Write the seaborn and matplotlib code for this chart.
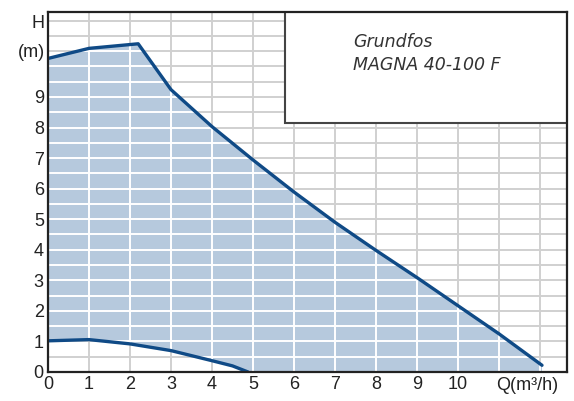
import matplotlib
matplotlib.use("Agg")
import matplotlib.pyplot as plt
from matplotlib.patches import Polygon, Rectangle
import seaborn as sns
import numpy as np

# pump curve, max speed (Q in m3/h, H in m)
q_max = [0, 1, 2.2, 3, 4, 5, 6, 7, 8, 9, 10, 11, 12.05]
h_max = [10.26, 10.59, 10.74, 9.24, 8.03, 6.94, 5.89, 4.90, 3.98, 3.09, 2.17, 1.25, 0.22]

# pump curve, min speed
q_min = [0, 1, 2, 3, 4, 4.5, 4.88]
h_min = [1.02, 1.06, 0.92, 0.70, 0.37, 0.20, 0.0]

x_ticks = list(range(0, 11))
y_ticks = list(range(0, 10))
title_lines = ["Grundfos", "MAGNA 40-100 F"]

sns.set_style("white")
plt.rcParams["font.family"] = ["Liberation Sans", "DejaVu Sans"]

XMAX, YMAX = 12.66, 11.78

fig = plt.figure(figsize=(5.74, 4.01), dpi=100)
ax = fig.add_axes([48 / 574, 1 - 372 / 401, (567 - 48) / 574, (372 - 12) / 401])
ax.set_xlim(0, XMAX)
ax.set_ylim(0, YMAX)

grid_x = np.arange(0, 13, 1)
grid_y = np.arange(0, 12, 0.5)
ax.vlines(grid_x, 0, YMAX, color="#d0d0d0", lw=1.4, zorder=0)
ax.hlines(grid_y, 0, XMAX, color="#d0d0d0", lw=1.4, zorder=0)

# operating area between the two curves
verts = list(zip(q_max, h_max)) + [(q_max[-1], 0)] + list(zip(q_min[::-1], h_min[::-1]))
poly = Polygon(verts, closed=True, facecolor="#b6c9dd", edgecolor="none", zorder=1)
ax.add_patch(poly)
vl = ax.vlines(grid_x, 0, YMAX, color="white", lw=1.4, zorder=2)
hl = ax.hlines(grid_y, 0, XMAX, color="white", lw=1.4, zorder=2)
vl.set_clip_path(poly)
hl.set_clip_path(poly)

sns.lineplot(x=q_max, y=h_max, ax=ax, color="#0f4a86", lw=2.4, sort=False, zorder=3)
sns.lineplot(x=q_min, y=h_min, ax=ax, color="#0f4a86", lw=2.4, sort=False, zorder=3)

# legend box
ax.add_patch(Rectangle((5.78, 8.15), 8, 5, facecolor="white", edgecolor="#444444",
                       lw=1.5, zorder=4))
ax.text(7.44, 10.8, title_lines[0], fontsize=12.5, style="italic", color="#333333",
        family=["DejaVu Sans"], ha="left", va="center", zorder=5)
ax.text(7.44, 10.05, title_lines[1], fontsize=12.5, style="italic", color="#333333",
        family=["DejaVu Sans"], ha="left", va="center", zorder=5)

ax.set_xticks(x_ticks)
ax.set_yticks(y_ticks)
ax.tick_params(length=0, labelsize=13, colors="#222222", pad=3)
ax.text(-0.08, 11.42, "H", fontsize=13, color="#222222", ha="right", va="center",
        clip_on=False)
ax.text(-0.08, 10.47, "(m)", fontsize=13, color="#222222", ha="right", va="center",
        clip_on=False)
ax.text(11.7, -0.17, "Q(m³/h)", fontsize=13, color="#222222", ha="center", va="top",
        clip_on=False)

for s in ax.spines.values():
    s.set_color("#222222")
    s.set_linewidth(1.6)
    s.set_zorder(6)

fig.savefig("out.png", dpi=100)
